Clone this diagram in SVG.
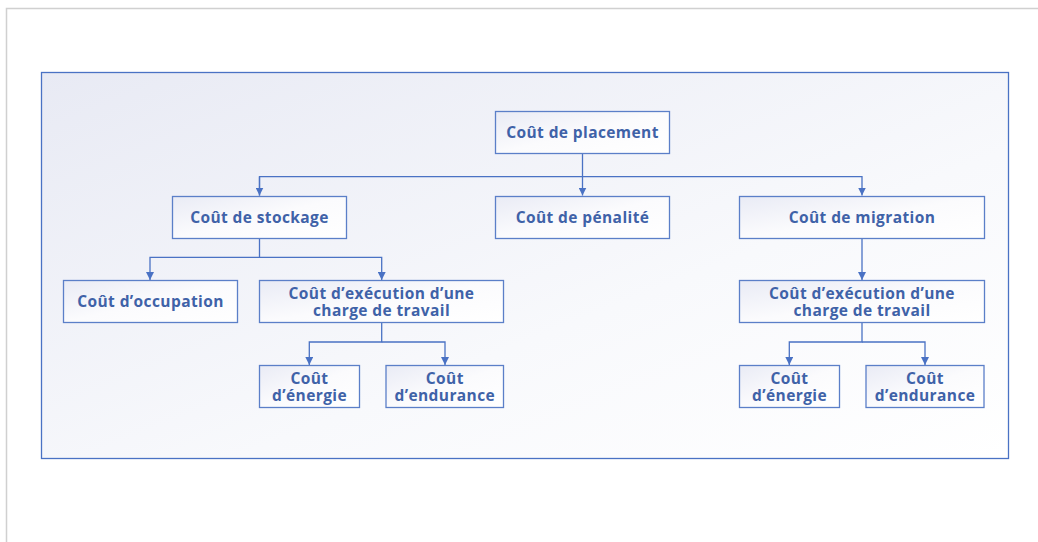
<svg xmlns="http://www.w3.org/2000/svg" width="1038" height="542" viewBox="0 0 1038 542">
<defs>
<linearGradient id="bg" x1="0" y1="0" x2="1" y2="1">
<stop offset="0" stop-color="#e8eaf4"/>
<stop offset="0.6" stop-color="#f8f9fc"/>
<stop offset="1" stop-color="#ffffff"/>
</linearGradient>
<linearGradient id="nf" x1="0" y1="0" x2="1" y2="1">
<stop offset="0" stop-color="#e9ebf5"/>
<stop offset="0.5" stop-color="#fbfbfd"/>
<stop offset="1" stop-color="#ffffff"/>
</linearGradient>
<marker id="ah" viewBox="0 0 10 10" refX="10" refY="5" markerWidth="8" markerHeight="8" markerUnits="userSpaceOnUse" orient="auto">
<path d="M0,0 L10,5 L0,10 z" fill="#4a72c4"/>
</marker>
<style>
.node rect{fill:url(#nf);stroke:#5b7fc8;stroke-width:1.3}
.node text{font-family:"Open Sans","Liberation Sans",sans-serif;font-weight:700;font-size:15.5px;letter-spacing:0.4px;fill:#3f62a8;text-anchor:middle}
.conn path{fill:none;stroke:#4a72c4;stroke-width:1.3}
</style>
</defs>
<rect width="1038" height="542" fill="#ffffff"/>
<path d="M6.5,542 V8.5 H1038" fill="none" stroke="#d0d0d0" stroke-width="1.5"/>
<rect id="frame" x="41.5" y="72.5" width="967" height="386" fill="url(#bg)" stroke="#4a72c4" stroke-width="1.3"/>
<g id="connectors" class="conn">
<path d="M582.5,153 V195.5" marker-end="url(#ah)"/>
<path d="M259.5,195.5 V176.7 H862 V195.5" marker-end="url(#ah)"/>
<path d="M259.5,176.7 V195.5" marker-end="url(#ah)"/>
<path d="M259.5,238 V257.3 H150 V280" marker-end="url(#ah)"/>
<path d="M259.5,257.3 H381.7 V280" marker-end="url(#ah)"/>
<path d="M381.7,322.5 V342 H309.3 V365" marker-end="url(#ah)"/>
<path d="M381.7,342 H445 V365" marker-end="url(#ah)"/>
<path d="M862,238.5 V280" marker-end="url(#ah)"/>
<path d="M862,322.5 V342 H789.3 V365" marker-end="url(#ah)"/>
<path d="M862,342 H925 V365" marker-end="url(#ah)"/>
</g>
<g id="n-placement" class="node"><rect x="495.5" y="111.5" width="174" height="42"/><text x="582.5" y="138">Coût de placement</text></g>
<g id="n-stockage" class="node"><rect x="172.5" y="196.5" width="174" height="42"/><text x="259.5" y="223">Coût de stockage</text></g>
<g id="n-penalite" class="node"><rect x="495.5" y="196.5" width="174" height="42"/><text x="582.5" y="223">Coût de pénalité</text></g>
<g id="n-migration" class="node"><rect x="739.5" y="196.5" width="245" height="42"/><text x="862" y="223">Coût de migration</text></g>
<g id="n-occupation" class="node"><rect x="63.5" y="280.5" width="174" height="42"/><text x="150.5" y="307">Coût d’occupation</text></g>
<g id="n-exec-l" class="node"><rect x="259.5" y="280.5" width="244" height="42"/><text x="381.5" y="298.5">Coût d’exécution d’une</text><text x="381.5" y="315.5">charge de travail</text></g>
<g id="n-energie-l" class="node"><rect x="259.5" y="365.5" width="100" height="42"/><text x="309.5" y="383.5">Coût</text><text x="309.5" y="400.5">d’énergie</text></g>
<g id="n-endurance-l" class="node"><rect x="386" y="365.5" width="117.5" height="42"/><text x="444.8" y="383.5">Coût</text><text x="444.8" y="400.5">d’endurance</text></g>
<g id="n-exec-r" class="node"><rect x="739.5" y="280.5" width="245" height="42"/><text x="862" y="298.5">Coût d’exécution d’une</text><text x="862" y="315.5">charge de travail</text></g>
<g id="n-energie-r" class="node"><rect x="739.5" y="365.5" width="100" height="42"/><text x="789.5" y="383.5">Coût</text><text x="789.5" y="400.5">d’énergie</text></g>
<g id="n-endurance-r" class="node"><rect x="866" y="365.5" width="118" height="42"/><text x="925" y="383.5">Coût</text><text x="925" y="400.5">d’endurance</text></g>
</svg>
